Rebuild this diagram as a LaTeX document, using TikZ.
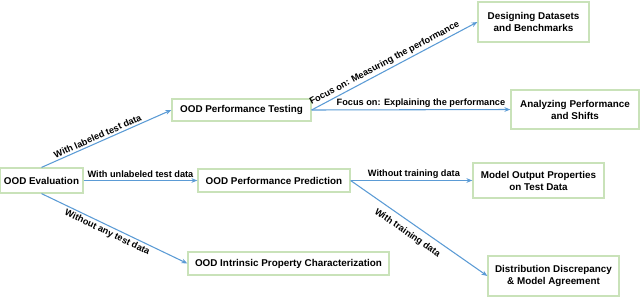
\documentclass[tikz,border=0pt]{standalone}
\usepackage{fontspec}
\setmainfont{Liberation Sans}
\usetikzlibrary{arrows.meta}
\definecolor{boxgreen}{HTML}{C9E2B9}
\definecolor{arrowblue}{HTML}{5B9BD5}
\tikzset{
  box/.style={draw=boxgreen, line width=0.9pt, fill=white, inner sep=1pt, align=center,
    font=\fontsize{7.4}{9}\selectfont\bfseries, text=black},
  conn/.style={draw=arrowblue, line width=0.8pt, -{Stealth[length=4.5pt,width=3.5pt]}},
  lbl/.style={font=\fontsize{6.9}{8}\selectfont\bfseries, text=black, inner sep=1.5pt}
}
\begin{document}
\begin{tikzpicture}[x=0.75pt,y=-0.75pt]
\useasboundingbox (0,0) rectangle (640,297);
\node[box, minimum width={83*0.75pt}, minimum height={25*0.75pt}] (eval) at (41.5,180.5) {OOD Evaluation};
\node[box, minimum width={139*0.75pt}, minimum height={22*0.75pt}] (test) at (241.5,110) {OOD Performance Testing};
\node[box, minimum width={111*0.75pt}, minimum height={40*0.75pt}] (design) at (533.5,22) {Designing Datasets\\and Benchmarks};
\node[box, minimum width={128*0.75pt}, minimum height={39*0.75pt}] (analyze) at (575,109.5) {Analyzing Performance\\and Shifts};
\node[box, minimum width={152*0.75pt}, minimum height={23*0.75pt}] (pred) at (274,180.5) {OOD Performance Prediction};
\node[box, minimum width={131*0.75pt}, minimum height={35*0.75pt}] (model) at (538.5,180.5) {Model Output Properties\\on Test Data};
\node[box, minimum width={201*0.75pt}, minimum height={23*0.75pt}] (intr) at (288.5,263.5) {OOD Intrinsic Property Characterization};
\node[box, minimum width={131*0.75pt}, minimum height={40*0.75pt}] (dist) at (553.5,276) {Distribution Discrepancy\\\& Model Agreement};

\draw[conn] (eval.north) -- node[lbl, sloped, above, pos=0.45] {With labeled test data} (test.west);
\draw[conn] (eval.east) -- node[lbl, above, pos=0.5] {With unlabeled test data} (pred.west);
\draw[conn] (eval.south) -- node[lbl, sloped, below, pos=0.47] {Without any test data} (intr.west);
\draw[conn] (test.east) -- node[lbl, sloped, above, pos=0.46] {Focus on: Measuring the performance} (design.west);
\draw[conn] (test.east) -- node[lbl, above, pos=0.55] {Focus on: Explaining the performance} (analyze.west);
\draw[conn] (pred.east) -- node[lbl, above, pos=0.52] {Without training data} (model.west);
\draw[conn] (pred.east) -- node[lbl, sloped, below=3pt, pos=0.46] {With training data} (dist.west);
\end{tikzpicture}
\end{document}
